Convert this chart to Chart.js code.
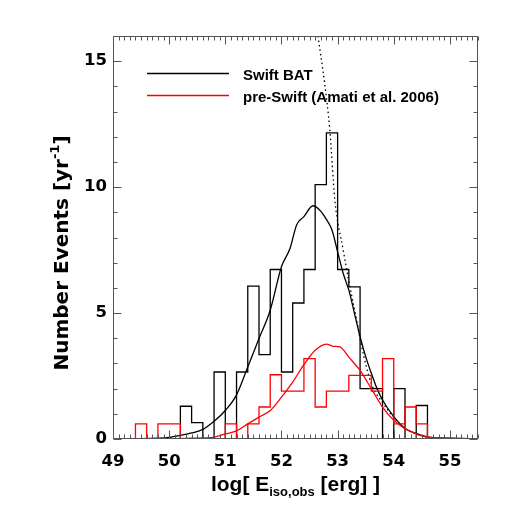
<!DOCTYPE html>
<html><head><meta charset="utf-8">
<style>html,body{margin:0;padding:0;background:#fff}#wrap{width:512px;height:512px}</style>
<script src="https://cdn.jsdelivr.net/npm/chart.js@4/dist/chart.umd.min.js"></script>
</head><body><div id="wrap"><canvas id="c" width="512" height="512"></canvas></div>
<script>
// ---- data ----
const binWidth = 0.2;
const binLeftEdges = [49.0,49.2,49.4,49.6,49.8,50.0,50.2,50.4,50.6,50.8,51.0,51.2,51.4,51.6,51.8,52.0,52.2,52.4,52.6,52.8,53.0,53.2,53.4,53.6,53.8,54.0,54.2,54.4,54.6,54.8,55.0,55.2,55.4];
const swiftCounts    = [0,0,0,0,0,0,1.3,0.65,0,2.66,0,2.66,6.07,3.35,6.73,2.66,5.4,6.73,10.1,12.15,6.73,6.04,2.0,2.0,0,2.0,0,1.33,0,0,0,0,0];
const preSwiftCounts = [0,0,0.6,0,0.6,0.6,0,0,0,0,0.6,0,0.6,1.27,2.55,1.9,1.9,3.19,1.27,1.9,1.9,2.53,2.53,1.9,3.19,0.6,1.27,0.6,0,0,0,0,0];

const swiftModelX = [49.0,49.4,49.8,50.0,50.2,50.4,50.6,50.8,51.0,51.2,51.4,51.6,51.8,52.0,52.15,52.27,52.4,52.56,52.68,52.8,52.9,53.0,53.1,53.2,53.3,53.4,53.5,53.6,53.7,53.8,54.0,54.2,54.4,54.6,55.0,55.5];
const swiftModelY = [0.0,0.01,0.03,0.06,0.14,0.24,0.38,0.7,1.13,1.75,2.86,3.99,5.11,6.84,7.55,8.5,8.83,9.26,9.09,8.72,8.3,7.43,6.57,5.91,4.99,4.06,3.27,2.61,2.01,1.55,0.89,0.42,0.22,0.08,0.03,0.01];

const preSwiftModelX = [49.0,50.0,50.4,50.6,50.8,51.0,51.2,51.4,51.6,51.8,52.0,52.2,52.4,52.6,52.8,52.92,53.04,53.2,53.4,53.6,53.8,54.0,54.2,54.4,54.6,55.0,55.5];
const preSwiftModelY = [0.0,0.01,0.03,0.04,0.07,0.2,0.32,0.6,0.87,1.13,1.66,2.26,2.95,3.52,3.77,3.68,3.66,3.25,2.72,2.0,1.27,0.74,0.41,0.21,0.07,0.03,0.01];

const dottedX = [52.65,52.77,52.86,52.95,53.1,53.22,53.34,53.43,53.6,53.8,54.0,54.2,54.4,54.6];
const dottedY = [16.0,14.1,12.3,9.5,7.5,6.04,4.71,3.65,2.2,1.45,0.85,0.42,0.2,0.08];

const xTicks = [49,50,51,52,53,54,55];
const yTicks = [0,5,10,15];
const legendLabels = ['Swift BAT','pre-Swift (Amati et al. 2006)'];

// ---- helpers ----
function stepPoints(edges, counts){
  const pts = edges.map((e,i)=>({x:e, y:counts[i]}));
  pts.push({x: edges[edges.length-1]+binWidth, y: counts[counts.length-1]});
  return pts;
}
function zipXY(xs, ys){ return xs.map((v,i)=>({x:v, y:ys[i]})); }

const FONT = "'Liberation Sans', Arial, Helvetica, sans-serif";
const WIDE = "'DejaVu Sans', Verdana, sans-serif";

const framePlugin = {
  id: 'frame',
  afterDraw(chart){
    const {ctx, chartArea:a, scales:{x, y}} = chart;
    ctx.save();
    ctx.strokeStyle = '#555';
    ctx.lineWidth = 1;
    const L = Math.round(a.left)+0.5, R = Math.round(a.right)-0.5, T = Math.round(a.top)+0.5, B = Math.round(a.bottom)-0.5;
    ctx.beginPath();
    ctx.rect(L, T, R-L, B-T);
    for(let k=490;k<=555;k++){
      const px = Math.round(x.getPixelForValue(k/10))+0.5;
      const len = (k%10===0)?8:4;
      ctx.moveTo(px,B); ctx.lineTo(px,B-len);
      ctx.moveTo(px,T); ctx.lineTo(px,T+len);
    }
    for(let k=0;k<=16;k++){
      const py = Math.round(y.getPixelForValue(k))+0.5;
      const len = (k%5===0)?8:4;
      ctx.moveTo(L,py); ctx.lineTo(L+len,py);
      ctx.moveTo(R,py); ctx.lineTo(R-len,py);
    }
    ctx.stroke();

    // legend
    const items = [{label: legendLabels[0], color:'#000', y:73.5},{label: legendLabels[1], color:'#ff0000', y:95.5}];
    ctx.font = "bold 15px " + FONT;
    ctx.textBaseline = 'alphabetic';
    ctx.fillStyle = '#000';
    items.forEach(it=>{
      ctx.strokeStyle = it.color; ctx.lineWidth = 1.3;
      ctx.beginPath(); ctx.moveTo(147, it.y); ctx.lineTo(229, it.y); ctx.stroke();
      ctx.fillText(it.label, 243, it.y + 6);
    });

    // x title
    const big = "bold 21px " + FONT, small = "bold 13px " + FONT;
    const p1 = 'log[ E', p2 = 'iso,obs', p3 = ' [erg] ]';
    ctx.font = big; const w1 = ctx.measureText(p1).width, w3 = ctx.measureText(p3).width;
    ctx.font = small; const w2 = ctx.measureText(p2).width;
    let sx = (a.left + a.right)/2 - (w1+w2+w3)/2;
    const by = 491;
    ctx.font = big; ctx.fillText(p1, sx, by); sx += w1;
    ctx.font = small; ctx.fillText(p2, sx, by+5); sx += w2;
    ctx.font = big; ctx.fillText(p3, sx, by);

    // y title
    const ybig = "bold 20px " + WIDE, ysmall = "bold 13px " + WIDE;
    const q1 = 'Number Events [yr', q2 = '-1', q3 = ']';
    ctx.font = ybig; const v1 = ctx.measureText(q1).width, v3 = ctx.measureText(q3).width;
    ctx.font = ysmall; const v2 = ctx.measureText(q2).width;
    ctx.translate(68, 253);
    ctx.rotate(-Math.PI/2);
    let sy = -(v1+v2+v3)/2;
    ctx.font = ybig; ctx.fillText(q1, sy, 0); sy += v1;
    ctx.font = ysmall; ctx.fillText(q2, sy, -9); sy += v2;
    ctx.font = ybig; ctx.fillText(q3, sy, 0);
    ctx.restore();
  }
};

new Chart(document.getElementById('c'), {
  type: 'line',
  data: {
    datasets: [
      { label: 'pre-Swift model', data: zipXY(preSwiftModelX, preSwiftModelY), borderColor:'#ff0000', borderWidth:1.3, pointRadius:0, fill:false, cubicInterpolationMode:'monotone' },
      { label: 'pre-Swift histogram', data: stepPoints(binLeftEdges, preSwiftCounts), borderColor:'#ff0000', borderWidth:1.3, pointRadius:0, fill:false, stepped:'before' },
      { label: 'dotted', data: zipXY(dottedX, dottedY), borderColor:'#000', borderWidth:1.3, borderDash:[1.5,3], pointRadius:0, fill:false, cubicInterpolationMode:'monotone' },
      { label: 'Swift model', data: zipXY(swiftModelX, swiftModelY), borderColor:'#000', borderWidth:1.3, pointRadius:0, fill:false, cubicInterpolationMode:'monotone' },
      { label: 'Swift histogram', data: stepPoints(binLeftEdges, swiftCounts), borderColor:'#000', borderWidth:1.3, pointRadius:0, fill:false, stepped:'before' }
    ]
  },
  options: {
    responsive:false, animation:false, devicePixelRatio:1,
    layout:{ padding:{ left:0, top:36, right:34, bottom:0 } },
    plugins:{ legend:{display:false}, tooltip:{enabled:false}, title:{display:false} },
    scales:{
      x:{ type:'linear', min:49, max:55.5,
        afterFit(s){ s.height = 73; },
        afterBuildTicks(s){ s.ticks = xTicks.map(v=>({value:v})); },
        grid:{ display:false, drawTicks:false }, border:{ display:false },
        ticks:{ color:'#000', padding:13, maxRotation:0, font:{ family:WIDE, size:16.5, weight:'bold' } } },
      y:{ type:'linear', min:0, max:16,
        afterFit(s){ s.width = 113; },
        afterBuildTicks(s){ s.ticks = yTicks.map(v=>({value:v})); },
        grid:{ display:false, drawTicks:false }, border:{ display:false },
        ticks:{ color:'#000', padding:6, font:{ family:WIDE, size:16.5, weight:'bold' } } }
    }
  },
  plugins:[framePlugin]
});
</script>
</body></html>
